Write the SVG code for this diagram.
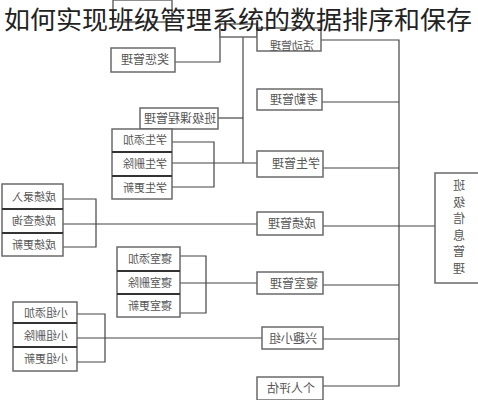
<svg xmlns="http://www.w3.org/2000/svg" width="478" height="400" viewBox="0 0 478 400">
<style>
.bx{fill:#fff;stroke:#6a6a6a;stroke-width:1.5}
.dv{stroke:#333;stroke-width:2}
.ln{fill:none;stroke:#444;stroke-width:1.2}
.lb{font-family:"Noto Sans CJK SC","Noto Sans",sans-serif;font-size:11px;fill:#555;text-anchor:middle}
.lb2{font-family:"Noto Sans CJK SC","Noto Sans",sans-serif;font-size:12px;fill:#555;text-anchor:middle}
.tt{font-family:"Noto Sans CJK SC","Noto Sans",sans-serif;font-size:25.5px;fill:#222}
</style>
<rect width="478" height="400" fill="#fff"/>
<g id="connectors">
<polyline class="ln" points="321,40 399,40 399,386 323,386"/>
<line class="ln" x1="322" y1="102" x2="399" y2="102"/>
<line class="ln" x1="323" y1="168" x2="399" y2="168"/>
<line class="ln" x1="323" y1="226" x2="435" y2="226"/>
<line class="ln" x1="323" y1="285" x2="399" y2="285"/>
<line class="ln" x1="323" y1="339" x2="399" y2="339"/>
<polyline class="ln" points="175,62 220,62 220,24"/>
<polyline class="ln" points="243,37 243,163"/>
<line class="ln" x1="218" y1="118" x2="243" y2="118"/>
<polyline class="ln" points="172,142 214,142 214,187 172,187"/>
<line class="ln" x1="172" y1="163" x2="257" y2="163"/>
<polyline class="ln" points="63,199 96,199 96,247 63,247"/>
<line class="ln" x1="63" y1="224" x2="257" y2="224"/>
<polyline class="ln" points="180,256 206,256 206,313 180,313"/>
<line class="ln" x1="180" y1="283" x2="257" y2="283" stroke-width="1.6"/>
<polyline class="ln" points="77,314 105,314 105,362 77,362"/>
<line class="ln" x1="77" y1="338" x2="262" y2="338"/>
</g>
<g id="n-top-a"><rect class="bx" x="113" y="0" width="59" height="22"/></g>
<g id="n-top-b"><rect class="bx" x="220" y="24" width="37" height="13"/></g>
<g id="n-top-c"><rect class="bx" x="257" y="28" width="64" height="23"/>
<text class="lb" font-size="10" transform="translate(292,49.5) scale(-1,1)">活动管理</text></g>
<g id="n-jiangcheng"><rect class="bx" x="111" y="48" width="64" height="24"/>
<text class="lb2" transform="translate(145,64) scale(-1,1)">奖惩管理</text></g>
<g id="n-kaoqin"><rect class="bx" x="257" y="89" width="65" height="21"/>
<text class="lb2" transform="translate(294,104) scale(-1,1)">考勤管理</text></g>
<g id="n-kecheng"><rect class="bx" x="140" y="108" width="78" height="21"/>
<text class="lb2" transform="translate(180,123) scale(-1,1)">班级课程管理</text></g>
<g id="n-xuesheng-stack"><rect class="bx" x="112" y="129" width="60" height="70"/>
<line class="dv" x1="112" y1="152" x2="172" y2="152"/><line class="dv" x1="112" y1="176" x2="172" y2="176"/>
<text class="lb" transform="translate(145,144) scale(-1,1)">学生添加</text>
<text class="lb" transform="translate(145,168) scale(-1,1)">学生删除</text>
<text class="lb" transform="translate(145,192) scale(-1,1)">学生更新</text></g>
<g id="n-xuesheng"><rect class="bx" x="257" y="151" width="66" height="26"/>
<text class="lb2" transform="translate(296,168) scale(-1,1)">学生管理</text></g>
<g id="n-chengji-stack"><rect class="bx" x="2" y="184" width="61" height="72"/>
<line class="dv" x1="2" y1="209" x2="63" y2="209"/><line class="dv" x1="2" y1="233" x2="63" y2="233"/>
<text class="lb" transform="translate(34,201) scale(-1,1)">成绩录入</text>
<text class="lb" transform="translate(34,225) scale(-1,1)">成绩查询</text>
<text class="lb" transform="translate(34,249) scale(-1,1)">成绩更新</text></g>
<g id="n-chengji"><rect class="bx" x="257" y="212" width="66" height="23"/>
<text class="lb2" transform="translate(292,228) scale(-1,1)">成绩管理</text></g>
<g id="n-root"><rect class="bx" x="435" y="173" width="45" height="110"/>
<text class="lb2" font-size="14" x="-459" y="190" transform="scale(-1,1)">班</text>
<text class="lb2" font-size="14" x="-459" y="207" transform="scale(-1,1)">级</text>
<text class="lb2" font-size="14" x="-459" y="223" transform="scale(-1,1)">信</text>
<text class="lb2" font-size="14" x="-459" y="240" transform="scale(-1,1)">息</text>
<text class="lb2" font-size="14" x="-459" y="256" transform="scale(-1,1)">管</text>
<text class="lb2" font-size="14" x="-459" y="273" transform="scale(-1,1)">理</text></g>
<g id="n-qinshi-stack"><rect class="bx" x="117" y="247" width="63" height="70"/>
<line class="dv" x1="117" y1="271" x2="180" y2="271"/><line class="dv" x1="117" y1="294" x2="180" y2="294"/>
<text class="lb" transform="translate(150,263) scale(-1,1)">寝室添加</text>
<text class="lb" transform="translate(150,287) scale(-1,1)">寝室删除</text>
<text class="lb" transform="translate(150,310) scale(-1,1)">寝室更新</text></g>
<g id="n-qinshi"><rect class="bx" x="257" y="272" width="66" height="22"/>
<text class="lb2" transform="translate(294,288) scale(-1,1)">寝室管理</text></g>
<g id="n-xiaozu-stack"><rect class="bx" x="13" y="302" width="64" height="69"/>
<line class="dv" x1="13" y1="323" x2="77" y2="323"/><line class="dv" x1="13" y1="347" x2="77" y2="347"/>
<text class="lb" transform="translate(46,317) scale(-1,1)">小组添加</text>
<text class="lb" transform="translate(46,340) scale(-1,1)">小组删除</text>
<text class="lb" transform="translate(46,363) scale(-1,1)">小组更新</text></g>
<g id="n-xingqu"><rect class="bx" x="262" y="327" width="61" height="22"/>
<text class="lb2" transform="translate(293,343) scale(-1,1)">兴趣小组</text></g>
<g id="n-pinggu"><rect class="bx" x="257" y="377" width="66" height="23"/>
<text class="lb2" transform="translate(291,393) scale(-1,1)">个人评估</text></g>
<text class="tt" x="4" y="29" textLength="468" lengthAdjust="spacingAndGlyphs">如何实现班级管理系统的数据排序和保存</text>
</svg>
